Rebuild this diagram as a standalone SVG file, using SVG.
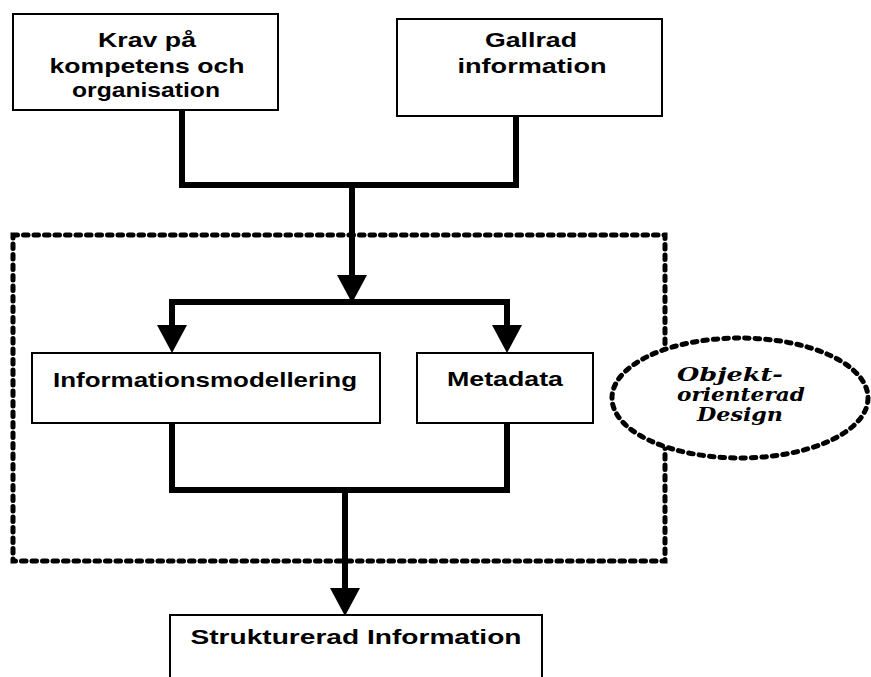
<svg xmlns="http://www.w3.org/2000/svg" width="871" height="677" viewBox="0 0 871 677">
  <style>
    .box { fill: #fff; stroke: #000; stroke-width: 2; }
    .lbl { font-family: "Liberation Sans", Arial, sans-serif; font-weight: bold; font-size: 21px; fill: #000; text-anchor: middle; }
    .oval { font-family: "DejaVu Serif", "Liberation Serif", serif; font-weight: bold; font-style: italic; font-size: 19px; fill: #000; text-anchor: middle; }
    .wire { fill: none; stroke: #000; stroke-width: 6; stroke-linejoin: miter; }
    .dash { fill: none; stroke: #000; stroke-width: 5; stroke-dasharray: 4.5 6; stroke-linecap: round; }
  </style>
  <defs>
    <marker id="head" markerUnits="userSpaceOnUse" markerWidth="28" markerHeight="30" viewBox="0 0 28 30" refX="0" refY="15" orient="auto">
      <path d="M0,0 L28,15 L0,30 Z" fill="#000"/>
    </marker>
  </defs>

  <rect width="871" height="677" fill="#fff"/>

  <!-- dashed frame around the modelling stage -->
  <rect id="frame" class="dash" x="13" y="235" width="652" height="326"/>

  <!-- connectors -->
  <g id="connectors">
    <path class="wire" d="M182,110 V185 H516 V116"/>
    <path class="wire" d="M352,185 V275" marker-end="url(#head)"/>
    <path class="wire" d="M172,324 V302 H507 V324"/>
    <path class="wire" d="M172,302 V325" marker-end="url(#head)"/>
    <path class="wire" d="M507,302 V325" marker-end="url(#head)"/>
    <path class="wire" d="M172,423 V490 H507 V423"/>
    <path class="wire" d="M345,490 V588" marker-end="url(#head)"/>
  </g>

  <g id="krav">
    <rect class="box" x="13" y="14" width="265" height="96"/>
    <text class="lbl" x="147" y="47" textLength="98" lengthAdjust="spacingAndGlyphs">Krav på</text>
    <text class="lbl" x="147" y="73" textLength="195" lengthAdjust="spacingAndGlyphs">kompetens och</text>
    <text class="lbl" x="146" y="97" textLength="148" lengthAdjust="spacingAndGlyphs">organisation</text>
  </g>

  <g id="gallrad">
    <rect class="box" x="397" y="19" width="265" height="97"/>
    <text class="lbl" x="531" y="47" textLength="92" lengthAdjust="spacingAndGlyphs">Gallrad</text>
    <text class="lbl" x="532" y="73" textLength="149" lengthAdjust="spacingAndGlyphs">information</text>
  </g>

  <g id="infomodell">
    <rect class="box" x="32" y="353" width="348" height="70"/>
    <text class="lbl" x="205" y="387" textLength="304" lengthAdjust="spacingAndGlyphs">Informationsmodellering</text>
  </g>

  <g id="metadata">
    <rect class="box" x="417" y="353" width="176" height="70"/>
    <text class="lbl" x="505" y="386" textLength="116" lengthAdjust="spacingAndGlyphs">Metadata</text>
  </g>

  <g id="design">
    <ellipse cx="740" cy="398" rx="128" ry="60" fill="#fff" stroke="#000" stroke-width="5" stroke-dasharray="4.5 6" stroke-linecap="round"/>
    <text class="oval" x="730" y="381" textLength="106" lengthAdjust="spacingAndGlyphs">Objekt-</text>
    <text class="oval" x="741" y="401" textLength="128" lengthAdjust="spacingAndGlyphs">orienterad</text>
    <text class="oval" x="740" y="421" textLength="86" lengthAdjust="spacingAndGlyphs">Design</text>
  </g>

  <g id="strukturerad">
    <rect class="box" x="170" y="615" width="372" height="80"/>
    <text class="lbl" x="356" y="644" textLength="331" lengthAdjust="spacingAndGlyphs">Strukturerad Information</text>
  </g>
</svg>
